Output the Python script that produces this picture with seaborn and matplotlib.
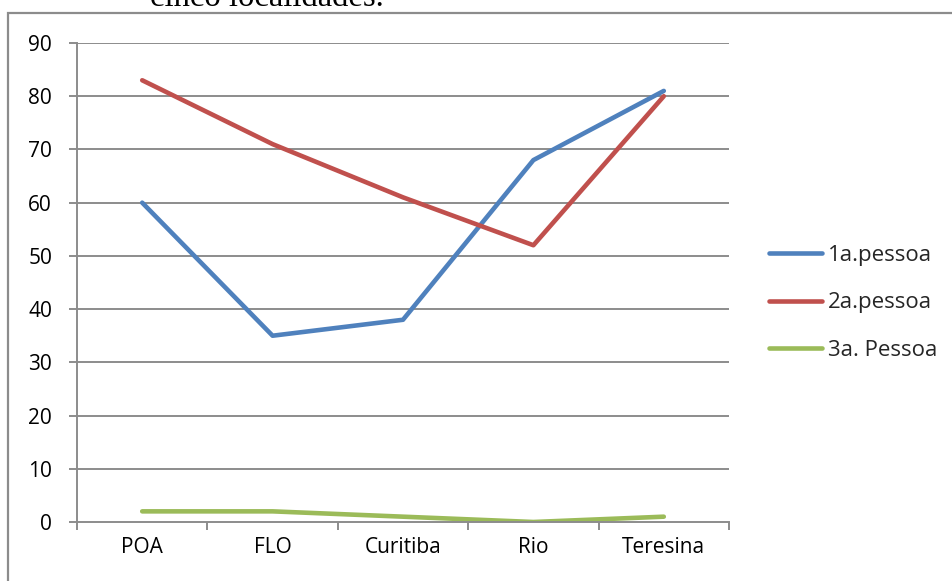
import matplotlib
matplotlib.use("Agg")
import matplotlib.pyplot as plt
import matplotlib.patches as mpatches
import seaborn as sns
import pandas as pd

# Localidades e percentuais por pessoa do discurso
localidades = ["POA", "FLO", "Curitiba", "Rio", "Teresina"]
primeira = [60, 35, 38, 68, 81]
segunda = [83, 71, 61, 52, 80]
terceira = [2, 2, 1, 0, 1]
series_nomes = ["1a.pessoa", "2a.pessoa", "3a. Pessoa"]
cores = ["#4F81BD", "#C0504D", "#9BBB59"]
yticks = list(range(0, 91, 10))

df = pd.concat([
    pd.DataFrame({"local": localidades, "valor": vals, "serie": nome})
    for nome, vals in zip(series_nomes, [primeira, segunda, terceira])
])
df["pos"] = df["local"].map({l: i for i, l in enumerate(localidades)})

sns.set_theme(style="white")
plt.rcParams["font.family"] = ["Open Sans", "DejaVu Sans"]

W, H = 953, 581
fig = plt.figure(figsize=(W / 100, H / 100), dpi=100)
ax = fig.add_axes([77 / W, (H - 522) / H, (729 - 77) / W, (522 - 43) / H])

# gridlines behind the data
for v in yticks[1:]:
    ax.axhline(v, color="#8c8c8c", lw=1.4, zorder=0)

sns.lineplot(data=df, x="pos", y="valor", hue="serie", palette=cores,
             linewidth=3.3, ax=ax, legend=False, sort=False)
for ln in ax.get_lines()[-3:]:
    ln.set_solid_capstyle("round")
    ln.set_solid_joinstyle("round")

ax.set_xlim(-0.5, len(localidades) - 0.5)
ax.set_ylim(0, 90)
ax.set_xticks(range(len(localidades)))
ax.set_xticklabels(localidades)
ax.set_xticks([i - 0.5 for i in range(len(localidades) + 1)], minor=True)
ax.set_yticks(yticks)
ax.set_xlabel("")
ax.set_ylabel("")

for s in ["top", "right"]:
    ax.spines[s].set_visible(False)
for s in ["left", "bottom"]:
    ax.spines[s].set_color("#8c8c8c")
    ax.spines[s].set_linewidth(1.4)

ax.tick_params(axis="x", which="major", length=0, pad=11, labelsize=15, colors="black")
ax.tick_params(axis="x", which="minor", length=6, width=1.4, color="#8c8c8c", bottom=True)
ax.tick_params(axis="y", which="major", length=6, width=1.4, color="#8c8c8c",
               pad=12, labelsize=15, left=True, labelcolor="black")

handles = [plt.Line2D([0], [0], color=c, lw=3.3, solid_capstyle="round") for c in cores]
fig.legend(handles, series_nomes, loc="center left",
           bbox_to_anchor=(749 / W, 1 - 303 / H), frameon=False,
           fontsize=16, handlelength=2.4, handletextpad=0.25, labelspacing=1.2)

# moldura do gráfico
fig.patches.append(mpatches.Rectangle((8 / W, -0.1), 1.2, 1 - 13 / H + 0.1,
                                      transform=fig.transFigure, fill=False,
                                      edgecolor="#8c8c8c", lw=1.6))

# texto do parágrafo acima do gráfico
fig.text(150 / W, 1 - 6 / H, "cinco localidades.", family="Liberation Serif",
         fontsize=23.5, ha="left", va="baseline", color="black")

fig.savefig("out.png", dpi=100)
